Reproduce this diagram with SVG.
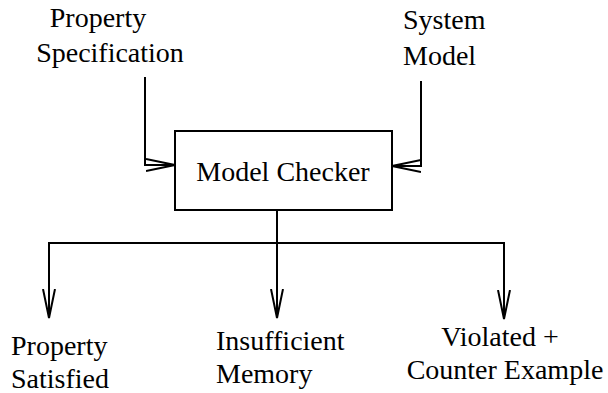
<svg xmlns="http://www.w3.org/2000/svg" width="608" height="393" viewBox="0 0 608 393">
  <style>
    text { font-family: "Liberation Serif", "Times New Roman", serif; font-size: 28px; fill: #000; }
    .line { fill: none; stroke: #000; stroke-width: 2; }
    .box { fill: #fff; stroke: #000; stroke-width: 2; }
  </style>
  <defs>
    <!-- long, narrow open V arrowhead -->
    <marker id="open" viewBox="0 0 30 14" refX="29" refY="7" markerWidth="30" markerHeight="14" markerUnits="userSpaceOnUse" orient="auto">
      <path d="M0,1 L29,7 L0,13" fill="none" stroke="#000" stroke-width="2"/>
    </marker>
  </defs>

  <g id="connectors">
    <path class="line" d="M145,77 V165 H175" marker-end="url(#open)"/>
    <path class="line" d="M421,81 V166 H392" marker-end="url(#open)"/>
    <path class="line" d="M277,210 V318" marker-end="url(#open)"/>
    <path class="line" d="M49,318 V243 H504 V319" marker-end="url(#open)"/>
    <path class="line" d="M49,243 V318" marker-end="url(#open)"/>
  </g>

  <g id="property-specification">
    <text x="98" y="27" text-anchor="middle">Property</text>
    <text x="110" y="62" text-anchor="middle">Specification</text>
  </g>

  <g id="system-model">
    <text x="403" y="29">System</text>
    <text x="403" y="65">Model</text>
  </g>

  <g id="model-checker">
    <rect class="box" x="175" y="131" width="217" height="79"/>
    <text x="283" y="181" text-anchor="middle">Model Checker</text>
  </g>

  <g id="property-satisfied">
    <text x="11" y="355">Property</text>
    <text x="11" y="388">Satisfied</text>
  </g>

  <g id="insufficient-memory">
    <text x="216" y="350">Insufficient</text>
    <text x="216" y="383">Memory</text>
  </g>

  <g id="violated-counter-example">
    <text x="500" y="346" text-anchor="middle">Violated +</text>
    <text x="505" y="379" text-anchor="middle">Counter Example</text>
  </g>
</svg>
